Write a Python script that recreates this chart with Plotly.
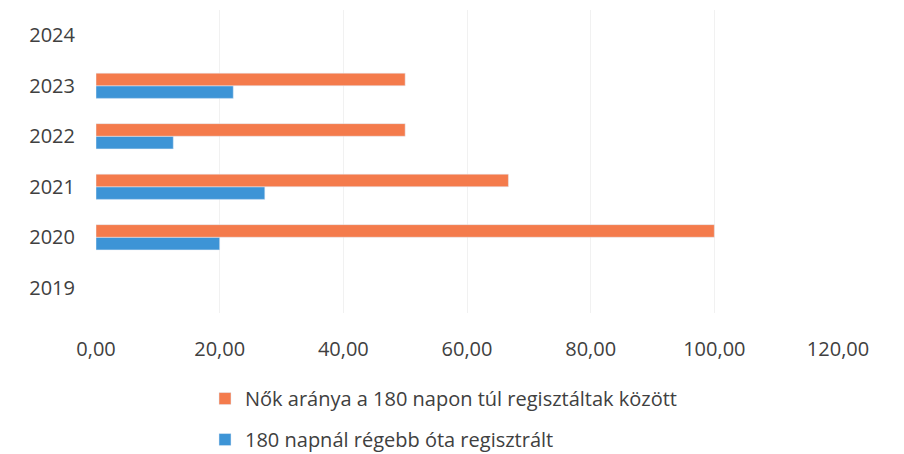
import plotly.graph_objects as go

years = ["2019", "2020", "2021", "2022", "2023", "2024"]
women_share = [None, 100.0, 66.7, 50.0, 50.0, None]
registered_180 = [None, 20.0, 27.3, 12.5, 22.2, None]
series_names = ["Nők aránya a 180 napon túl regisztáltak között",
                "180 napnál régebb óta regisztrált"]
x_ticks = [0, 20, 40, 60, 80, 100, 120]
x_tick_labels = ["0,00", "20,00", "40,00", "60,00", "80,00", "100,00", "120,00"]

FONT = "Open Sans, sans-serif"
TXT = "#404040"

fig = go.Figure()
fig.add_trace(go.Bar(y=years, x=registered_180, orientation="h", name=series_names[1],
                     marker=dict(color="#3D94D6"), legendrank=2, legendgroup="b"))
fig.add_trace(go.Bar(y=years, x=women_share, orientation="h", name=series_names[0],
                     marker=dict(color="#F47B4C"), legendrank=1, legendgroup="a"))

fig.update_layout(
    width=896, height=446,
    margin=dict(l=88, r=66, t=2, b=141, autoexpand=False),
    paper_bgcolor="white", plot_bgcolor="white",
    barmode="group", bargap=0.5, bargroupgap=0,
    font=dict(family=FONT, size=20, color=TXT),
    showlegend=True,
    legend=dict(orientation="v", x=0.469, xanchor="center", y=-0.218, yanchor="top",
                font=dict(size=20, color=TXT), itemwidth=30, traceorder="grouped",
                tracegroupgap=12),
    xaxis=dict(range=[0, 120], tickvals=x_ticks, ticktext=x_tick_labels,
               showgrid=True, gridcolor="#f1f1f1", gridwidth=1, zeroline=False,
               showline=False, ticks="", ticklabelstandoff=22, fixedrange=True,
               automargin=False),
    yaxis=dict(type="category", categoryorder="array", categoryarray=years,
               showgrid=False, zeroline=False, showline=False, ticks="",
               ticklabelstandoff=20, fixedrange=True, automargin=False),
)

fig.write_html("out.html")
